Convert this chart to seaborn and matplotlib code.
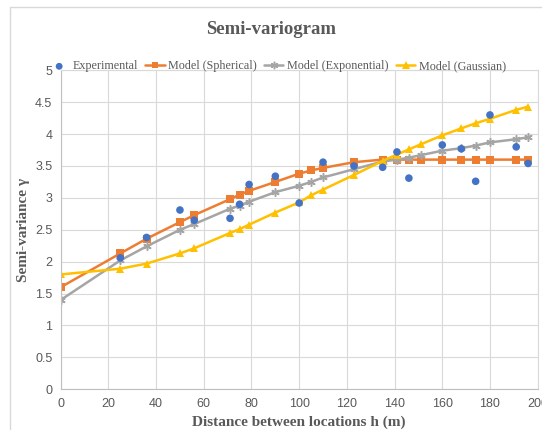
import matplotlib
matplotlib.use("Agg")
import matplotlib.pyplot as plt
import matplotlib.patches as mpatches
from matplotlib.ticker import FuncFormatter, MultipleLocator
import seaborn as sns

# lag distances h (m) used by the models
distance = [0, 25, 36, 50, 56, 71, 75, 79, 90, 100, 105, 110, 123, 135, 141,
            146, 151, 160, 168, 174, 180, 191, 196]
spherical = [1.60, 2.13, 2.36, 2.62, 2.73, 2.98, 3.05, 3.11, 3.25, 3.38, 3.43,
             3.47, 3.56, 3.60, 3.60, 3.60, 3.60, 3.60, 3.60, 3.60, 3.60, 3.60, 3.60]
exponential = [1.40, 2.02, 2.24, 2.50, 2.59, 2.83, 2.88, 2.94, 3.09, 3.19, 3.25,
               3.32, 3.45, 3.57, 3.60, 3.63, 3.67, 3.74, 3.78, 3.82, 3.87, 3.92, 3.95]
gaussian = [1.80, 1.89, 1.97, 2.13, 2.21, 2.45, 2.51, 2.58, 2.77, 2.93, 3.04,
            3.13, 3.36, 3.58, 3.68, 3.76, 3.84, 3.98, 4.09, 4.17, 4.24, 4.38, 4.43]

# experimental semi-variance
exp_dist = [25, 36, 50, 56, 71, 75, 79, 90, 100, 110, 123, 135, 141, 146,
            160, 168, 174, 180, 191, 196]
exp_gamma = [2.06, 2.38, 2.81, 2.65, 2.68, 2.90, 3.21, 3.34, 2.92, 3.56, 3.50,
             3.48, 3.72, 3.31, 3.83, 3.77, 3.26, 4.30, 3.80, 3.54]

sns.set_style("whitegrid", {"grid.color": "#d9d9d9", "axes.edgecolor": "#d9d9d9"})
plt.rcParams["font.family"] = ["Liberation Sans", "DejaVu Sans"]

fig = plt.figure(figsize=(5.42, 4.30), dpi=100)
ax = fig.add_axes([0.112, 0.0947, 0.880, 0.7418])

# light chart border like the spreadsheet frame
fig.patches.append(mpatches.Rectangle((10 / 542, -0.05), 1.0, 1.05 - 7 / 430,
                                      transform=fig.transFigure, fill=False,
                                      edgecolor="#d9d9d9", lw=1.0))

sns.scatterplot(x=exp_dist, y=exp_gamma, ax=ax, color="#4472C4", s=30,
                edgecolor="none", label="Experimental", zorder=5)
sns.lineplot(x=distance, y=spherical, ax=ax, color="#ED7D31", lw=1.8,
             marker="s", markersize=5.5, markeredgewidth=0,
             label="Model (Spherical)")
sns.lineplot(x=distance, y=exponential, ax=ax, color="#A5A5A5", lw=1.8,
             marker=(6, 2, 0), markersize=6, markeredgewidth=1.1,
             markeredgecolor="#A5A5A5", label="Model (Exponential)")
sns.lineplot(x=distance, y=gaussian, ax=ax, color="#FFC000", lw=1.8,
             marker="^", markersize=6, markeredgewidth=0,
             label="Model (Gaussian)")

ax.set_xlim(0, 200)
ax.set_ylim(0, 5)
ax.xaxis.set_major_locator(MultipleLocator(20))
ax.yaxis.set_major_locator(MultipleLocator(0.5))
ax.yaxis.set_major_formatter(FuncFormatter(lambda v, p: "%g" % v))
ax.tick_params(colors="#595959", labelsize=9, length=0, pad=6)
for s in ax.spines.values():
    s.set_color("#d9d9d9")
ax.spines["left"].set_color("#bfbfbf")
ax.spines["bottom"].set_color("#bfbfbf")

serif = ["Liberation Serif", "DejaVu Serif"]
fig.text(0.5, 0.932, "Semi-variogram", ha="center", va="center",
         family=serif, fontsize=13.5, fontweight="bold", color="#595959")
ax.set_xlabel("Distance between locations h (m)", family=serif, fontsize=11,
              fontweight="bold", color="#595959", labelpad=4)
ax.set_ylabel("Semi-variance γ", family=serif, fontsize=11,
              fontweight="bold", color="#595959", labelpad=4)

leg = ax.legend(loc="center", bbox_to_anchor=(0.455, 1.012), ncol=4,
                frameon=False, prop={"family": serif, "size": 8.7},
                handlelength=1.6, handletextpad=0.3, columnspacing=0.6,
                borderaxespad=0, markerscale=0.9)
for t in leg.get_texts():
    t.set_color("#595959")

fig.savefig("out.png", dpi=100)
